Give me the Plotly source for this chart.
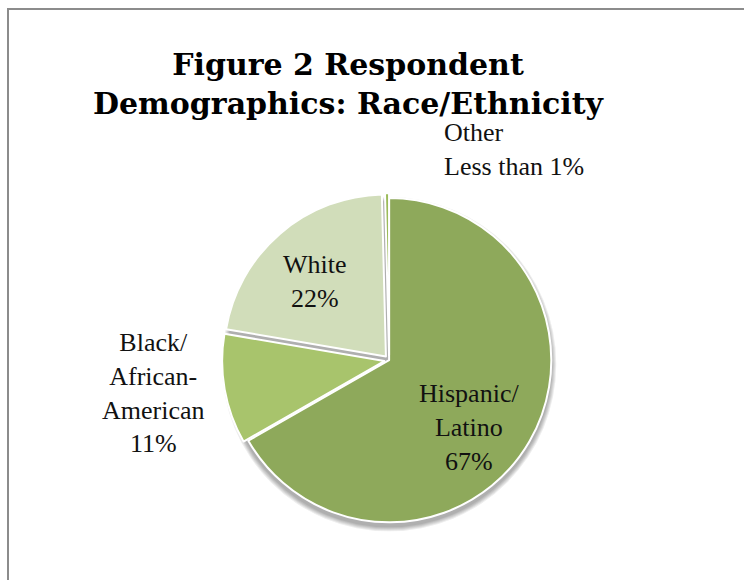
import plotly.graph_objects as go

categories = ["Hispanic/<br>Latino", "Black/<br>African-<br>American", "White", "Other<br>Less than 1%"]
values = [67, 11, 22, 0.4]
pct_labels = ["67%", "11%", "22%", ""]
colors = ["#8EA95B", "#A8C46C", "#D1DDBA", "#9BBB59"]
pulls = [0, 0.03, 0.03, 0.03]

W, H = 744, 580
SERIF = "Liberation Serif"
TITLE_FONT = "DejaVu Serif"

texts = [c + ("<br>" + p if p else "") for c, p in zip(categories, pct_labels)]

dom_x = [0.296, 0.750]
dom_y = [0.091, 0.667]

fig = go.Figure(go.Pie(
    values=values,
    labels=categories,
    textinfo="none",
    sort=False,
    direction="clockwise",
    rotation=0,
    pull=pulls,
    marker=dict(colors=colors, line=dict(color="white", width=2)),
    domain=dict(x=dom_x, y=dom_y),
    showlegend=False,
    hoverinfo="label+value",
))

# soft drop shadow behind the pie (decoration)
cx = (dom_x[0] + dom_x[1]) / 2 * W
cy = H - (dom_y[0] + dom_y[1]) / 2 * H
r = min((dom_x[1] - dom_x[0]) * W, (dom_y[1] - dom_y[0]) * H) / 2 / (1 + max(pulls))
shapes = []
for k, extra in enumerate([5, 4, 3, 2, 1]):
    rr = r + extra
    oy = 4
    shapes.append(dict(type="circle", xref="paper", yref="paper", layer="below",
                       x0=(cx - rr) / W, x1=(cx + rr) / W,
                       y0=1 - (cy + oy + rr) / H, y1=1 - (cy + oy - rr) / H,
                       fillcolor="rgba(0,0,0,0.07)", line=dict(width=0)))
shapes.append(dict(type="rect", xref="paper", yref="paper",
                   x0=8 / W, x1=1.05, y0=-0.05, y1=1 - 9 / H,
                   line=dict(color="#8C8C8C", width=2)))

# label placements (pixel centres, left edge for "Other")
label_pos = [(469, 427, "center"), (153, 393, "center"), (315, 281, "center"), (442, 149, "left")]
for t, (px, py, anc) in zip(texts, label_pos):
    fig.add_annotation(text=t, x=px / W, y=1 - py / H, xref="paper", yref="paper",
                       showarrow=False, font=dict(family=SERIF, size=26, color="#111111"),
                       align=anc, xanchor=anc, yanchor="middle")

fig.update_layout(
    width=W, height=H,
    margin=dict(l=0, r=0, t=0, b=0),
    paper_bgcolor="white",
    title=dict(text="<b>Figure 2 Respondent<br>Demographics: Race/Ethnicity</b>",
               x=348 / W, xanchor="center", y=1 - 75 / H, yanchor="middle",
               font=dict(family=TITLE_FONT, size=30, color="#000000")),
    shapes=shapes,
)

fig.write_html("out.html", post_script="document.body.style.margin='0';",
               config={"displayModeBar": False})
